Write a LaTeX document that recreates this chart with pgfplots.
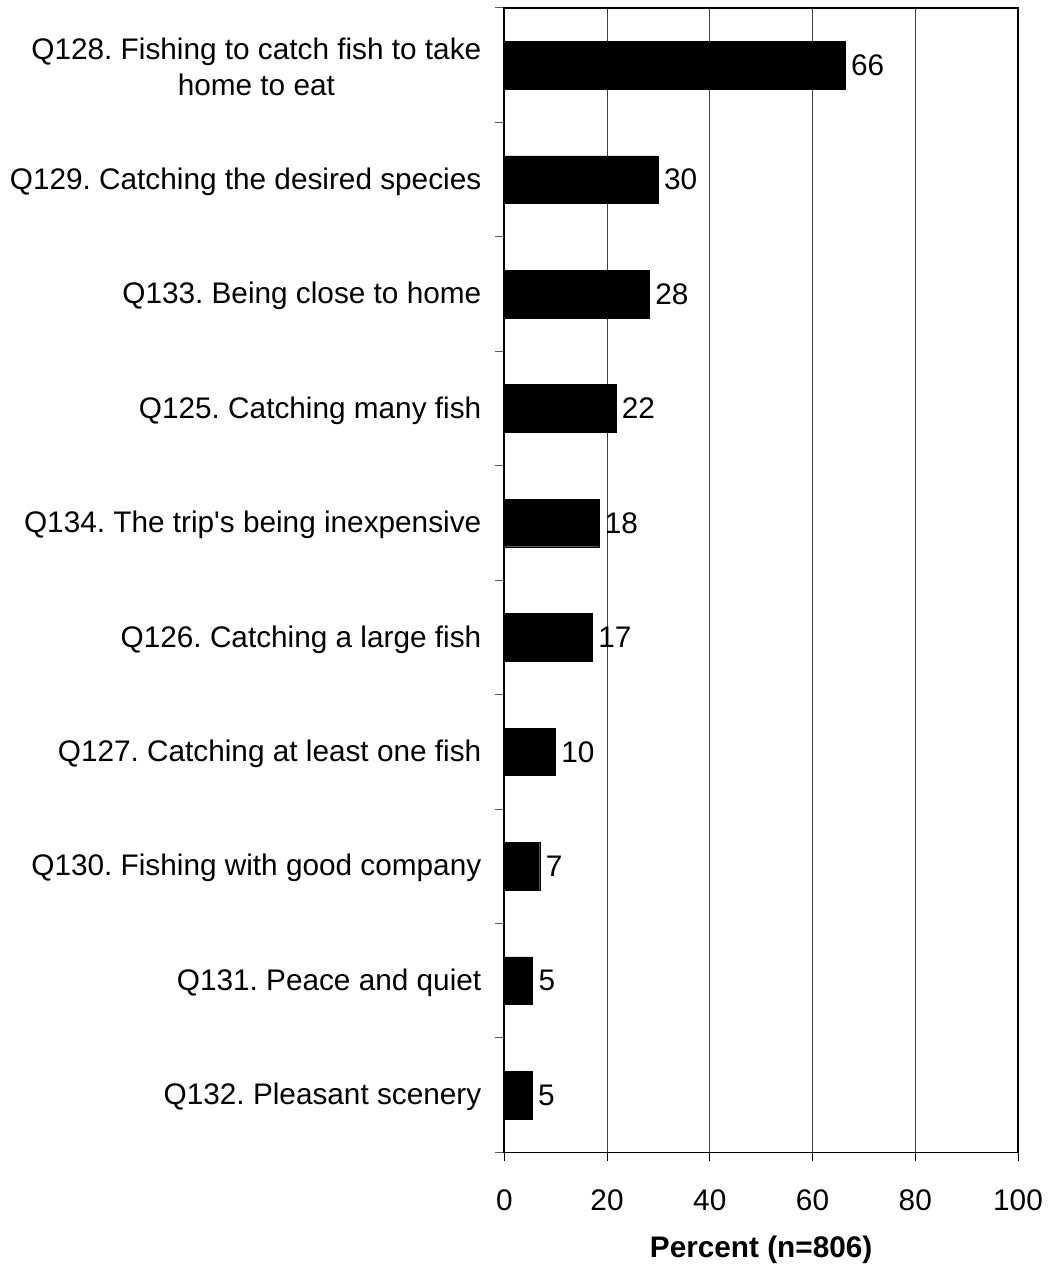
\documentclass[border=0pt]{standalone}
\usepackage{pgfplots}
\pgfplotsset{compat=1.18}
\usepackage{fontspec}
\setmainfont{Liberation Sans}
\frenchspacing
\begin{document}
\fontsize{30}{36}\selectfont
\begin{tikzpicture}[font=\fontsize{30}{36}\selectfont]
\begin{axis}[
  scale only axis, width=518pt, height=1154pt,
  xbar, bar width=48pt,
  xmin=0, xmax=100, ymin=-0.5, ymax=9.5, y dir=reverse,
  axis line style={line width=1.6pt},
  xtick={0,20,...,100},
  ytick={0,...,9},
  minor ytick={-0.5,0.5,...,9.5},
  yticklabels={{Q128. Fishing to catch fish to take\\home to eat},
    {Q129. Catching the desired species},
    {Q133. Being close to home},
    {Q125. Catching many fish},
    {Q134. The trip\textquotesingle s being inexpensive},
    {Q126. Catching a large fish},
    {Q127. Catching at least one fish},
    {Q130. Fishing with good company},
    {Q131. Peace and quiet},
    {Q132. Pleasant scenery}},
  yticklabel style={align=center, xshift=-4pt, yshift=-2pt},
  xticklabel style={yshift=-18pt},
  /pgf/number format/assume math mode=true,
  tick align=outside,
  xtick pos=bottom, ytick pos=left,
  major y tick style={draw=none},
  major tick length=9pt, minor tick length=9pt,
  tick style={black, line width=1pt},
  minor tick style={gray!70!black, line width=1pt},
  xmajorgrids,
  major x grid style={black!75, line width=0.9pt},
  xlabel={\textbf{Percent (n=806)}},
  xlabel style={yshift=-6pt},
  point meta=explicit symbolic,
  nodes near coords,
  nodes near coords style={anchor=west, inner xsep=6pt, black},
]
\addplot[fill=black, draw=black] coordinates {
  (66.3,0) [66]
  (29.9,1) [30]
  (28.2,2) [28]
  (21.7,3) [22]
  (18.4,4) [18]
  (17.1,5) [17]
  (9.9,6) [10]
  (6.9,7) [7]
  (5.5,8) [5]
  (5.4,9) [5]
};
\end{axis}
\path (current axis.south west) ++(-506pt,-112pt) rectangle ++(1056pt,1274pt);
\end{tikzpicture}
\end{document}
